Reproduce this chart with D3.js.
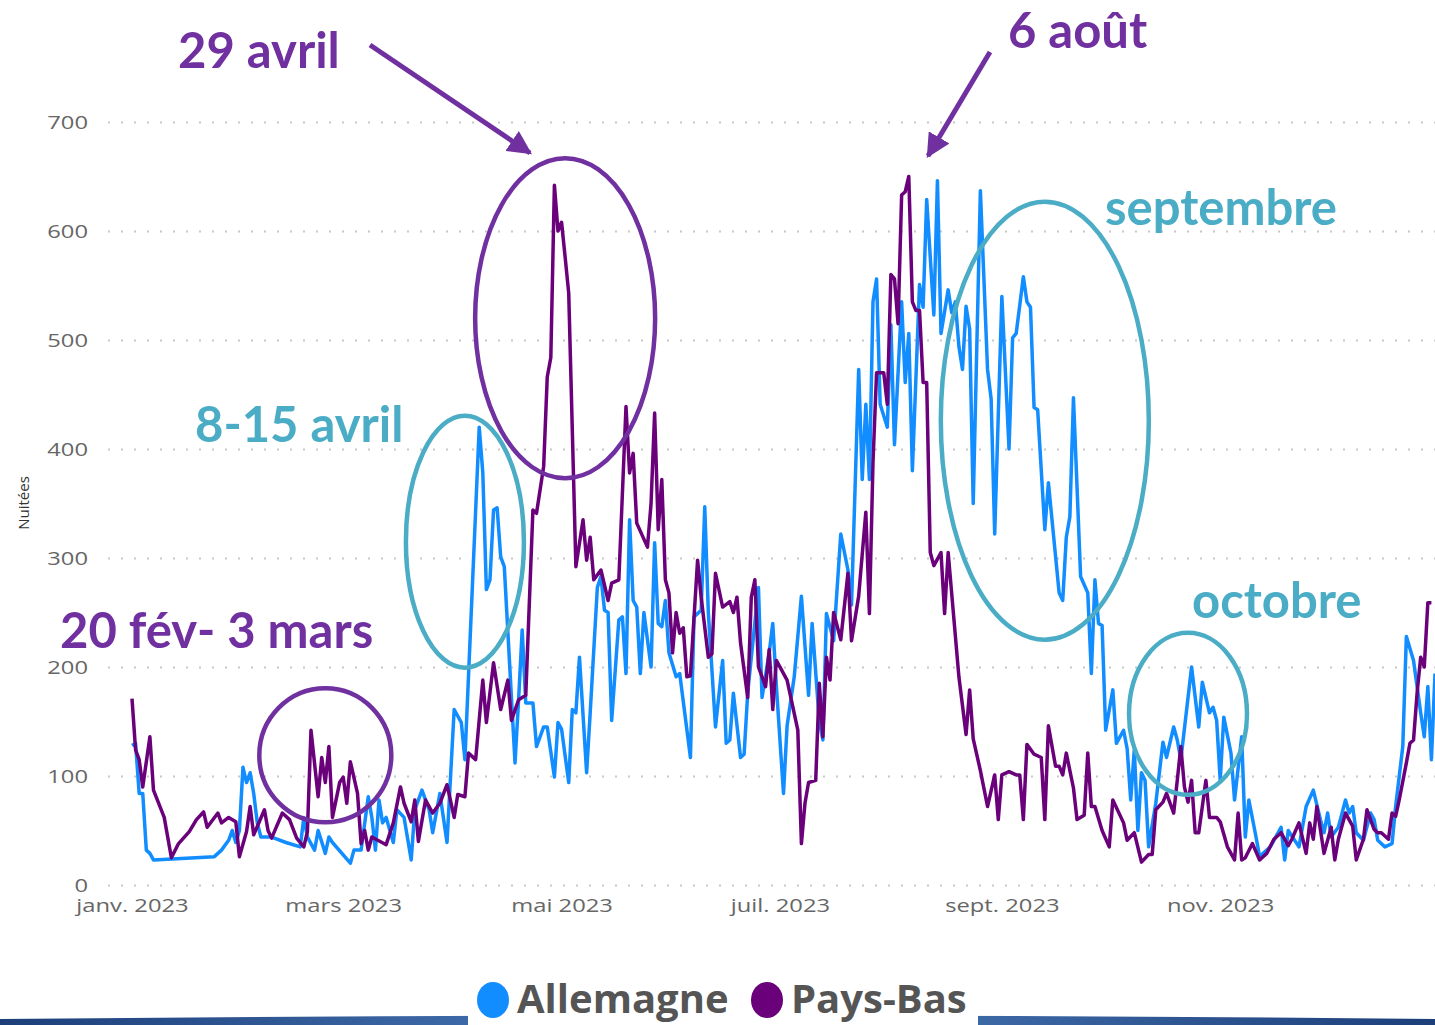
<!DOCTYPE html>
<html>
<head>
<meta charset="utf-8">
<script src="https://cdn.jsdelivr.net/npm/d3@7"></script>
<style>
  body { margin: 0; background: #fff; }
  svg { display: block; }
</style>
</head>
<body>
<div id="chart"></div>
<script>
// Nuitées par jour, 2023 (jour = nombre de jours depuis le 1er janvier)
var deDays = [0,1,2,3,4,5,6,23,25,27,28,29,30,31,32,33,34,35,36,39,43,47,48,49,51,52,54,55,56,61,62,64,66,67,68,69,70,71,73,74,76,78,79,81,83,84,86,88,90,92,93,97,98,99,100,101,102,103,104,107,108,109,110,112,113,115,116,118,119,120,122,123,124,125,127,128,130,131,132,133,134,136,137,138,139,140,141,142,143,145,146,147,148,149,150,152,153,156,157,159,160,161,163,165,166,167,168,170,171,172,175,176,178,179,180,182,183,185,187,189,190,192,193,194,196,198,200,201,203,204,205,206,207,208,209,211,212,213,215,216,217,218,220,221,222,224,225,226,228,229,230,231,232,233,234,235,237,239,240,241,243,245,246,247,249,250,251,252,253,255,256,259,260,261,262,263,265,267,268,269,270,271,272,274,275,277,278,279,280,281,282,283,284,286,288,289,291,292,293,296,298,299,301,302,303,304,305,307,308,310,311,312,314,315,318,321,322,323,326,328,330,332,333,334,335,337,339,340,341,342,344,346,347,348,350,352,353,355,356,358,360,361,362,363,364];
var deVals = [128,130,84,84,32,29,23,26,32,41,50,39,50,108,94,103,84,57,44,44,39,35,62,44,32,50,29,44,39,20,32,32,81,62,32,78,57,62,39,69,62,23,69,87,69,48,84,39,161,149,115,420,378,271,280,344,346,301,292,112,170,234,167,167,127,145,145,99,149,143,94,161,158,209,103,158,273,283,252,250,151,243,246,194,335,261,255,194,250,200,314,240,237,261,213,191,194,117,246,252,347,250,145,206,130,133,176,117,120,176,273,172,213,240,183,84,146,191,265,174,240,150,133,249,224,322,289,257,473,372,441,372,535,556,441,420,514,404,535,461,506,380,551,530,629,523,646,506,546,525,535,494,473,531,510,350,637,473,446,322,540,400,502,506,558,535,530,438,436,326,369,268,261,319,338,447,283,268,194,280,240,238,142,179,130,142,125,78,124,50,103,96,35,75,131,117,145,133,115,200,145,186,158,163,151,96,154,121,78,136,44,78,44,26,35,53,23,50,35,72,87,60,48,66,44,53,78,66,72,48,41,66,60,41,35,38,72,127,228,206,158,136,182,115,194];

var nlDays = [0,1,2,3,5,6,9,11,13,16,18,20,21,24,25,27,29,30,32,33,34,37,38,39,42,44,46,48,49,50,52,53,54,55,56,58,59,60,61,63,64,65,66,67,71,73,75,76,78,79,80,82,84,86,88,90,91,93,94,96,98,99,101,103,105,106,108,110,112,113,115,116,117,118,119,120,121,122,124,126,127,128,129,131,133,134,136,138,139,140,141,144,145,146,147,148,149,150,151,152,153,154,155,156,158,159,161,162,163,165,167,168,169,170,172,173,174,175,177,178,179,180,183,186,187,188,189,191,192,193,194,195,196,198,200,201,203,205,206,207,208,210,211,212,213,214,215,216,217,218,219,220,221,222,223,224,226,227,228,231,233,234,235,237,239,241,242,243,245,247,248,249,250,252,254,255,256,258,259,260,261,263,264,266,267,268,269,271,273,274,277,278,280,282,284,285,286,288,289,291,292,293,294,295,296,297,298,300,301,303,304,306,308,309,310,311,313,315,317,319,321,323,324,326,328,329,330,331,333,335,336,337,339,341,342,344,345,347,348,349,351,352,353,354,356,357,358,359,360,361,362,363];
var nlVals = [171,124,115,90,136,87,62,25,38,49,60,67,53,66,57,62,58,26,49,72,46,69,50,43,66,60,43,35,49,142,81,117,94,127,62,94,99,75,113,84,38,50,32,44,37,57,90,75,58,78,40,78,66,75,92,62,83,81,121,115,188,149,204,161,188,151,170,174,344,341,384,466,484,642,600,608,576,543,292,335,298,319,280,289,261,277,280,439,378,396,332,310,350,433,326,372,280,268,213,250,231,236,191,192,298,264,209,212,286,255,260,250,264,222,172,264,280,200,182,216,161,206,188,142,38,75,94,96,185,136,209,188,250,225,286,224,265,342,249,388,470,470,441,560,556,515,633,636,650,535,527,527,461,461,305,293,305,249,305,191,138,179,134,105,72,101,60,101,104,101,101,60,129,120,117,60,146,109,109,101,121,89,60,64,121,72,72,50,35,78,57,41,48,21,28,28,69,76,84,66,96,127,90,76,96,48,48,96,62,62,58,35,23,66,23,25,38,23,29,42,48,36,42,57,29,57,42,72,29,53,23,42,66,54,23,42,69,51,48,48,42,66,63,78,112,130,133,176,209,200,259,259];

var seriesNames = ["Allemagne", "Pays-Bas"];
var yTicks = [0, 100, 200, 300, 400, 500, 600, 700];
var xTickMonths = [0, 2, 4, 6, 8, 10];
var xTickLabels = ["janv. 2023", "mars 2023", "mai 2023", "juil. 2023", "sept. 2023", "nov. 2023"];

var colDE = "#118DFF", colNL = "#6B007B";
var colPurple = "#7030A0", colTeal = "#4BACC6";

var width = 1435, height = 1025;

var svg = d3.select("#chart")
  .append("svg")
    .attr("width", width)
    .attr("height", height);

var defs = svg.append("defs");

var start = new Date(2023, 0, 1);
var x = d3.scaleTime()
  .domain([start, new Date(2023, 11, 31)])
  .range([132, 1435]);
var y = d3.scaleLinear()
  .domain([0, 700])
  .range([885, 122]);

// Y axis + dotted gridlines
var gy = svg.append("g")
  .attr("transform", "translate(108,0)")
  .call(d3.axisLeft(y).tickValues(yTicks).tickSize(-(width - 108)).tickPadding(16));
gy.select(".domain").remove();
gy.selectAll(".tick line")
  .attr("stroke", "#c8c8c8")
  .attr("stroke-width", 2)
  .attr("stroke-dasharray", "2,11");
gy.selectAll(".tick text")
  .attr("font-family", "'Open Sans', sans-serif")
  .attr("font-size", 19)
  .attr("fill", "#666")
  .attr("transform", "scale(1.25,1)");

// X axis
var gx = svg.append("g")
  .attr("transform", "translate(0,885)")
  .call(d3.axisBottom(x)
    .tickValues(xTickMonths.map(function(m){ return new Date(2023, m, 1); }))
    .tickFormat(function(d, i){ return xTickLabels[i]; })
    .tickSize(0).tickPadding(14));
gx.select(".domain").remove();
gx.selectAll(".tick text")
  .attr("font-family", "'Open Sans', sans-serif")
  .attr("font-size", 19)
  .attr("fill", "#666")
  .attr("transform", "scale(1.25,1)");

svg.append("text")
  .attr("transform", "translate(29,503) rotate(-90)")
  .attr("text-anchor", "middle")
  .attr("font-family", "'Open Sans', sans-serif")
  .attr("font-size", 15)
  .attr("fill", "#333")
  .text("Nuitées");

// lines
function toPoints(days, vals) {
  return days.map(function(d, i){ return {date: d3.timeDay.offset(start, d), value: vals[i]}; });
}
var line = d3.line()
  .x(function(d){ return x(d.date); })
  .y(function(d){ return y(d.value); });

svg.append("path")
  .datum(toPoints(deDays, deVals))
  .attr("fill", "none")
  .attr("stroke", colDE)
  .attr("stroke-width", 3.5)
  .attr("stroke-linejoin", "round")
  .attr("d", line);
svg.append("path")
  .datum(toPoints(nlDays, nlVals))
  .attr("fill", "none")
  .attr("stroke", colNL)
  .attr("stroke-width", 3.5)
  .attr("stroke-linejoin", "round")
  .attr("d", line);

// annotations: ellipses around periods
var annos = [
  {day: 54, value: 119, rx: 66, ry: 67, color: colPurple},
  {day: 93, value: 315, rx: 59, ry: 126, color: colTeal},
  {day: 121, value: 520, rx: 90, ry: 160, color: colPurple},
  {day: 255, value: 426, rx: 104, ry: 219, color: colTeal},
  {day: 295, value: 157, rx: 59, ry: 81, color: colTeal}
];
svg.selectAll("ellipse.anno")
  .data(annos)
  .enter()
  .append("ellipse")
    .attr("class", "anno")
    .attr("cx", function(d){ return x(d3.timeDay.offset(start, d.day)); })
    .attr("cy", function(d){ return y(d.value); })
    .attr("rx", function(d){ return d.rx; })
    .attr("ry", function(d){ return d.ry; })
    .attr("fill", "none")
    .attr("stroke", function(d){ return d.color; })
    .attr("stroke-width", 4.5);

var labels = [
  {t: "29 avril", x: 178, y: 68, color: colPurple},
  {t: "6 août", x: 1008, y: 48, color: colPurple},
  {t: "septembre", x: 1105, y: 225, color: colTeal},
  {t: "8-15 avril", x: 195, y: 442, color: colTeal},
  {t: "20 fév- 3 mars", x: 60, y: 648, color: colPurple},
  {t: "octobre", x: 1192, y: 618, color: colTeal}
];
svg.selectAll("text.anno")
  .data(labels)
  .enter()
  .append("text")
    .attr("class", "anno")
    .attr("x", function(d){ return d.x; })
    .attr("y", function(d){ return d.y; })
    .attr("font-family", "Lato, sans-serif")
    .attr("font-weight", "bold")
    .attr("font-size", 49)
    .attr("fill", function(d){ return d.color; })
    .text(function(d){ return d.t; });

// arrows
defs.append("marker")
  .attr("id", "head")
  .attr("markerUnits", "userSpaceOnUse")
  .attr("viewBox", "0 0 10 10")
  .attr("refX", 9).attr("refY", 5)
  .attr("markerWidth", 24).attr("markerHeight", 24)
  .attr("orient", "auto")
  .append("path")
    .attr("d", "M0,0 L10,5 L0,10 z")
    .attr("fill", colPurple);
var arrows = [[370, 45, 530, 153], [990, 52, 928, 156]];
svg.selectAll("line.arrow")
  .data(arrows)
  .enter()
  .append("line")
    .attr("x1", function(d){ return d[0]; })
    .attr("y1", function(d){ return d[1]; })
    .attr("x2", function(d){ return d[2]; })
    .attr("y2", function(d){ return d[3]; })
    .attr("stroke", colPurple)
    .attr("stroke-width", 5)
    .attr("marker-end", "url(#head)");

// slide footer band
var grad = defs.append("linearGradient").attr("id", "band");
grad.append("stop").attr("offset", "0%").attr("stop-color", "#1c3f7a");
grad.append("stop").attr("offset", "50%").attr("stop-color", "#4f7fbf");
grad.append("stop").attr("offset", "100%").attr("stop-color", "#1c3f7a");
svg.append("path")
  .attr("d", "M0,1019 Q717,1012 1435,1019 L1435,1025 L0,1025 Z")
  .attr("fill", "url(#band)");

// legend (on a white box, as in the slide)
var legend = svg.append("g");
legend.append("rect")
  .attr("x", 468).attr("y", 978)
  .attr("width", 510).attr("height", 47)
  .attr("fill", "#fff");
var legX = [493, 767];
seriesNames.forEach(function(name, i){
  legend.append("ellipse")
    .attr("cx", legX[i]).attr("cy", 1000)
    .attr("rx", 16).attr("ry", 18)
    .attr("fill", i === 0 ? colDE : colNL);
  legend.append("text")
    .attr("x", legX[i] + 24).attr("y", 1013)
    .attr("font-family", "'Open Sans', sans-serif")
    .attr("font-weight", "bold")
    .attr("font-size", 40)
    .attr("fill", "#555")
    .text(name);
});
</script>
</body>
</html>
